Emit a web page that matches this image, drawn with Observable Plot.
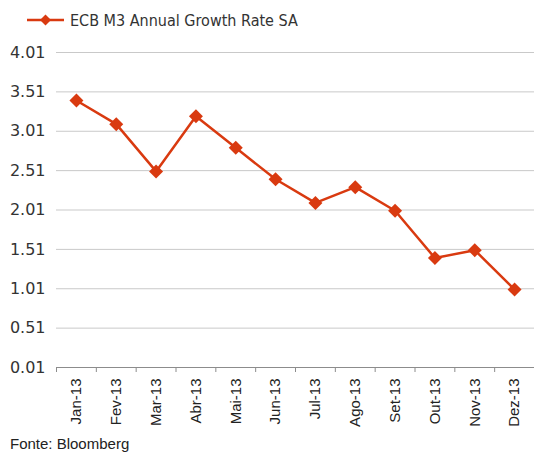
<!DOCTYPE html>
<html><head><meta charset="utf-8">
<script src="https://cdn.jsdelivr.net/npm/d3@7"></script>
<script src="https://cdn.jsdelivr.net/npm/@observablehq/plot@0.6"></script>
<style>
body{margin:0;background:#fff;width:534px;height:453px;overflow:hidden}
#legend{height:35px;display:block}
#legend svg{display:block}
#chart svg{display:block}
#caption{font-family:"Liberation Sans",Arial,sans-serif;font-size:15px;color:#222;padding-left:10px;line-height:18px}
</style></head><body>
<div id="legend"></div>
<div id="chart"></div>
<div id="caption">Fonte: Bloomberg</div>
<script>
const months = ["Jan-13","Fev-13","Mar-13","Abr-13","Mai-13","Jun-13","Jul-13","Ago-13","Set-13","Out-13","Nov-13","Dez-13"];
const values = [3.4, 3.1, 2.5, 3.2, 2.8, 2.4, 2.1, 2.3, 2.0, 1.4, 1.5, 1.0];
const yTicks = [0.01, 0.51, 1.01, 1.51, 2.01, 2.51, 3.01, 3.51, 4.01];
const seriesName = "ECB M3 Annual Growth Rate SA";
const red = "#d93a10";

const data = months.map((m, i) => ({i, x: i + 0.5, month: m, value: values[i]}));

// legend
const lg = d3.select("#legend").append("svg").attr("width", 534).attr("height", 35);
lg.append("line").attr("x1", 27).attr("x2", 64).attr("y1", 20).attr("y2", 20).attr("stroke", red).attr("stroke-width", 2.5);
lg.append("path").attr("transform", "translate(45.5,20)").attr("d", "M0,-5.5L5.5,0L0,5.5L-5.5,0Z").attr("fill", red);
lg.append("text").attr("x", 70).attr("y", 26).attr("font-family", '"DejaVu Sans Condensed","DejaVu Sans",sans-serif')
  .attr("font-size", 16).attr("fill", "#333").text(seriesName);

const chart = Plot.plot({
  width: 534,
  height: 400,
  marginTop: 17,
  marginBottom: 68,
  marginLeft: 56,
  marginRight: 0,
  x: {domain: [0, 12], label: null},
  y: {domain: [0.01, 4.01], label: null},
  marks: [
    Plot.gridY(yTicks.slice(1), {stroke: "#c9c9c9", strokeOpacity: 1, strokeWidth: 1}),
    Plot.axisY(yTicks, {tickSize: 0, tickPadding: 11, tickFormat: d => d.toFixed(2), label: null,
      fontSize: 16, fontFamily: '"DejaVu Sans",sans-serif', fill: "#333"}),
    Plot.axisX(d3.range(0, 13), {tickSize: 5, tickFormat: () => "", stroke: "#8c8c8c", label: null}),
    Plot.axisX(data.map(d => d.x), {tickSize: 0, tickPadding: 11, tickRotate: -90, label: null,
      tickFormat: (d) => months[Math.floor(d)], fontSize: 15,
      fontFamily: '"Liberation Sans",Arial,sans-serif', fill: "#222"}),
    Plot.ruleY([0.01], {stroke: "#8c8c8c", strokeWidth: 1}),
    Plot.line(data, {x: "x", y: "value", stroke: red, strokeWidth: 2.5}),
    Plot.dot(data, {x: "x", y: "value", symbol: "diamond2", r: 6.3, fill: red, stroke: "none"})
  ]
});
document.getElementById("chart").appendChild(chart);
</script>
</body></html>
